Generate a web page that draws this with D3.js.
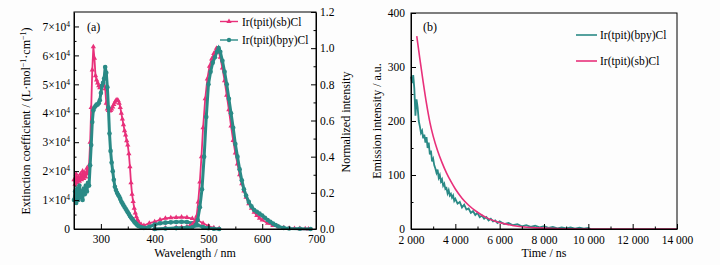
<!DOCTYPE html>
<html>
<head>
<meta charset="utf-8">
<script src="https://cdn.jsdelivr.net/npm/d3@7"></script>
<style>
  body { margin: 0; background: #fdfdfd; }
  svg { font-family: "Liberation Serif", "Times New Roman", serif; }
  .axis path, .axis line { stroke: #000; }
  .axis text { font-family: "Liberation Serif", serif; font-size: 11.5px; fill: #000; }
</style>
</head>
<body>
<svg id="chart" width="720" height="265"></svg>
<script>
// ---- panel (a): absorption (left axis, x10^4) ----
const absWavelength = [250,252,254,256,258,260,262,264,266,268,270,272,274,276,278,280,282,284,286,288,290,292,294,296,298,300,302,304,306,308,310,312,314,316,318,320,322,324,326,328,330,332,334,336,338,340,342,344,346,348,350,352,354,356,358,360,362,364,366,368,370,375,380,390,400,410,420,430,440,450,460,470,480,490,500,510,520];
const sbAbs = [1.7,1.55,1.9,1.6,1.8,1.65,1.9,1.7,2.0,1.75,1.95,1.8,2.1,1.9,2.2,3.0,4.2,5.5,6.3,5.9,5.3,5.15,5.05,4.95,4.88,4.9,4.97,5.02,4.95,4.85,4.35,4.15,4.1,4.08,4.1,4.15,4.22,4.3,4.38,4.44,4.47,4.44,4.35,4.2,4.0,3.8,3.6,3.4,3.25,3.05,2.9,2.6,2.15,1.6,1.2,0.95,0.72,0.55,0.42,0.32,0.25,0.15,0.12,0.2,0.25,0.32,0.37,0.39,0.4,0.41,0.4,0.36,0.3,0.2,0.1,0.04,0.02];
const bpyAbs = [1.0,1.3,0.9,1.4,1.0,1.5,1.1,1.3,1.0,1.4,1.2,1.5,1.3,1.6,1.5,2.2,2.9,3.7,4.1,4.2,4.25,4.3,4.3,4.35,4.45,4.7,4.95,5.05,5.2,5.6,5.4,4.9,4.2,3.3,2.7,2.3,2.0,1.7,1.46,1.35,1.25,1.18,1.12,1.04,0.95,0.89,0.82,0.76,0.7,0.64,0.58,0.52,0.45,0.4,0.35,0.3,0.25,0.21,0.17,0.13,0.1,0.06,0.04,0.08,0.15,0.2,0.22,0.23,0.24,0.25,0.24,0.2,0.13,0.07,0.03,0.01,0];

// ---- panel (a): normalized emission (right axis) ----
const sbEmWavelength = [400,420,440,450,460,465,470,474,478,481,484,487,490,494,498,502,506,510,515,518,522,526,530,534,538,542,546,550,554,558,562,566,570,575,580,585,590,595,600,610,620,630,640,650,660,670,680,686];
const sbEm = [0,0.005,0.008,0.01,0.012,0.015,0.025,0.04,0.07,0.15,0.26,0.4,0.56,0.72,0.83,0.9,0.94,0.97,1.0,0.99,0.95,0.89,0.82,0.74,0.66,0.57,0.49,0.42,0.36,0.3,0.25,0.21,0.175,0.14,0.115,0.093,0.075,0.06,0.05,0.032,0.02,0.012,0.007,0.004,0.003,0.002,0.001,0];
const bpyEmWavelength = [400,420,440,460,470,476,480,484,488,492,496,500,504,508,512,516,519,522,526,530,534,538,542,546,550,554,558,562,566,570,575,580,585,590,595,600,605,610,615,620,625,630,640,650,670,690];
const bpyEm = [0,0.003,0.005,0.008,0.01,0.02,0.05,0.12,0.22,0.4,0.62,0.8,0.87,0.92,0.95,0.98,1.0,0.98,0.93,0.87,0.8,0.72,0.64,0.56,0.47,0.4,0.33,0.27,0.22,0.185,0.15,0.125,0.105,0.095,0.085,0.075,0.062,0.05,0.04,0.03,0.022,0.014,0.006,0.003,0.001,0];

// ---- panel (b): decay ----
const bpyTime = [2000,2050,2100,2150,2200,2250,2300,2350,2400,2450,2500,2550,2600,2650,2700,2750,2800,2850,2900,2950,3000,3050,3100,3150,3200,3250,3300,3350,3400,3450,3500,3550,3600,3650,3700,3750,3800,3850,3900,3950,4000,4100,4200,4300,4400,4500,4600,4700,4800,4900,5000,5100,5200,5300,5400,5500,5600,5700,5800,5900,6000,6200,6400,6600,6800,7000,7200,7400,7600,7800,8000,8200,8400,8600,8800,9000,9200,9400,9600,9800,10000,10100];
const bpyDecay = [282,270,285,260,210,240,225,200,190,178,182,168,175,160,170,150,160,138,145,125,130,118,112,104,110,95,100,88,92,80,84,74,76,66,72,62,65,58,62,52,56,47,50,40,45,36,38,30,33,26,30,22,25,19,22,16,19,14,16,11,14,9,11,7,9,5,7,4,6,3,5,2,4,1,3,1,3,0.5,2.5,0.5,2,0];
const sbTime = [2260,2400,2550,2700,2850,3000,3200,3400,3600,3800,4000,4300,4600,5000,5400,5800,6300,6900,7500,8200,9000,10000,14000];
const sbDecay = [357,315,272,232,198,172,145,123,104,88,74,57,44,31,21,14.5,9,4.5,2.5,1.2,0.5,0,0];

const absTicks = [0,1,2,3,4,5,6,7];
const normTicks = [0,0.2,0.4,0.6,0.8,1.0,1.2];
const wlTicks = [300,400,500,600,700];
const timeTicks = [2000,4000,6000,8000,10000,12000,14000];
const decayTicks = [0,100,200,300,400];

const pink = '#e8307a';
const teal = '#2a8a86';

const svg = d3.select('#chart');

function frame(g, x, y){
    g.append('rect')
        .attr('x', x.range()[0]).attr('y', y.range()[1])
        .attr('width', x.range()[1] - x.range()[0])
        .attr('height', y.range()[0] - y.range()[1])
        .attr('fill', 'none').attr('stroke', '#000').attr('stroke-width', 1);
}

function minorAxis(g, axisFn, scale, values, transform){
    g.append('g').attr('class','axis').attr('transform', transform)
        .call(axisFn(scale).tickValues(values).tickSize(-2.5).tickSizeOuter(0).tickFormat(''))
        .select('.domain').remove();
}

// ================= panel (a) =================
const xA = d3.scaleLinear().domain([250, 700]).range([74, 316]);
const yAbs = d3.scaleLinear().domain([0, 7.5]).range([229, 12]);
const yNorm = d3.scaleLinear().domain([0, 1.2]).range([229, 12]);

const gA = svg.append('g');

let absLine = (arr)=> d3.line()
    .x((d, i)=> xA(absWavelength[i]))
    .y((d)=> yAbs(d))(arr);

let emLine = (wl, arr)=> d3.line()
    .x((d, i)=> xA(wl[i]))
    .y((d)=> yNorm(d))(arr);

const tri = d3.symbol().type(d3.symbolTriangle).size(12);

function drawTeal(path, pts){
    gA.append('path').attr('d', path).attr('fill','none').attr('stroke', teal).attr('stroke-width', 3);
    gA.append('g').selectAll('circle').data(pts).enter().append('circle')
        .attr('cx', d=> d[0]).attr('cy', d=> d[1]).attr('r', 2.3).attr('fill', teal);
}
function drawPink(path, pts){
    gA.append('path').attr('d', path).attr('fill','none').attr('stroke', pink).attr('stroke-width', 1.8);
    gA.append('g').selectAll('path').data(pts).enter().append('path')
        .attr('d', tri).attr('transform', d=> 'translate(' + d[0] + ',' + d[1] + ')').attr('fill', pink);
}

drawPink(absLine(sbAbs), sbAbs.map((d, i)=> [xA(absWavelength[i]), yAbs(d)]));
drawTeal(absLine(bpyAbs), bpyAbs.map((d, i)=> [xA(absWavelength[i]), yAbs(d)]));
drawPink(emLine(sbEmWavelength, sbEm), sbEm.map((d, i)=> [xA(sbEmWavelength[i]), yNorm(d)]));
drawTeal(emLine(bpyEmWavelength, bpyEm), bpyEm.map((d, i)=> [xA(bpyEmWavelength[i]), yNorm(d)]));

frame(gA, xA, yAbs);

gA.append('g').attr('class','axis').attr('transform','translate(0,229)')
    .call(d3.axisBottom(xA).tickValues(wlTicks).tickSize(-5).tickSizeOuter(0).tickPadding(6));
minorAxis(gA, d3.axisBottom, xA, [350,450,550,650], 'translate(0,229)');

let leftAxis = gA.append('g').attr('class','axis').attr('transform','translate(74,0)')
    .call(d3.axisLeft(yAbs).tickValues(absTicks).tickSize(-5).tickSizeOuter(0).tickPadding(4));
leftAxis.selectAll('.tick text').each(function(d){
    let t = d3.select(this).text('');
    if(d === 0){ t.text('0'); return; }
    t.append('tspan').text(d + '\u00d710');
    t.append('tspan').attr('dy', -4).attr('font-size', '7.5px').text('4');
});
minorAxis(gA, d3.axisLeft, yAbs, [0.5,1.5,2.5,3.5,4.5,5.5,6.5], 'translate(74,0)');

gA.append('g').attr('class','axis').attr('transform','translate(316,0)')
    .call(d3.axisRight(yNorm).tickValues(normTicks).tickSize(-5).tickSizeOuter(0).tickPadding(4)
        .tickFormat(d3.format('.1f')));
minorAxis(gA, d3.axisRight, yNorm, [0.1,0.3,0.5,0.7,0.9,1.1], 'translate(316,0)');

gA.append('text').attr('x', 87).attr('y', 31).attr('font-size', 12).text('(a)');

let ylab = gA.append('text').attr('transform','translate(30,121) rotate(-90)')
    .attr('text-anchor','middle').attr('font-size', 12);
ylab.append('tspan').text('Extinction coefficient / (L\u00b7mol');
ylab.append('tspan').attr('dy', -4).attr('font-size', 8).text('\u22121');
ylab.append('tspan').attr('dy', 4).text('\u00b7cm');
ylab.append('tspan').attr('dy', -4).attr('font-size', 8).text('\u22121');
ylab.append('tspan').attr('dy', 4).text(')');

gA.append('text').attr('transform','translate(350,122) rotate(-90)')
    .attr('text-anchor','middle').attr('font-size', 12).text('Normalized intensity');

gA.append('text').attr('x', 195).attr('y', 257).attr('text-anchor','middle')
    .attr('font-size', 12).text('Wavelength / nm');

// legend (a)
const legendA = [
    {name: 'Ir(tpit)(sb)Cl', color: pink, marker: 'tri'},
    {name: 'Ir(tpit)(bpy)Cl', color: teal, marker: 'circle'}
];
legendA.forEach((d, i)=>{
    let y = 21.5 + i * 18.5;
    gA.append('line').attr('x1', 220).attr('x2', 238).attr('y1', y).attr('y2', y)
        .attr('stroke', d.color).attr('stroke-width', 1.4);
    if(d.marker === 'tri')
        gA.append('path').attr('d', tri).attr('transform','translate(229,' + y + ')').attr('fill', d.color);
    else
        gA.append('circle').attr('cx', 229).attr('cy', y).attr('r', 2.2).attr('fill', d.color);
    gA.append('text').attr('x', 242).attr('y', y + 4).attr('font-size', 11.5).text(d.name);
});

// ================= panel (b) =================
const xB = d3.scaleLinear().domain([2000, 14000]).range([411, 677]);
const yB = d3.scaleLinear().domain([0, 400]).range([229, 13]);
const gB = svg.append('g');

gB.append('path')
    .attr('d', d3.line().x((d, i)=> xB(bpyTime[i])).y(d=> yB(d))(bpyDecay))
    .attr('fill','none').attr('stroke', teal).attr('stroke-width', 1.8);

gB.append('path')
    .attr('d', d3.line().curve(d3.curveMonotoneX).x((d, i)=> xB(sbTime[i])).y(d=> yB(d))(sbDecay))
    .attr('fill','none').attr('stroke', pink).attr('stroke-width', 1.6);

frame(gB, xB, yB);

const spaceLocale = d3.formatLocale({decimal: '.', thousands: ' ', grouping: [3], currency: ['', '']});

gB.append('g').attr('class','axis').attr('transform','translate(0,229)')
    .call(d3.axisBottom(xB).tickValues(timeTicks).tickSize(-5).tickSizeOuter(0).tickPadding(7)
        .tickFormat(spaceLocale.format(',')));
minorAxis(gB, d3.axisBottom, xB, [3000,5000,7000,9000,11000,13000], 'translate(0,229)');

gB.append('g').attr('class','axis').attr('transform','translate(411,0)')
    .call(d3.axisLeft(yB).tickValues(decayTicks).tickSize(-5).tickSizeOuter(0).tickPadding(6));
minorAxis(gB, d3.axisLeft, yB, [50,150,250,350], 'translate(411,0)');

gB.append('text').attr('x', 423).attr('y', 31).attr('font-size', 12).text('(b)');

gB.append('text').attr('transform','translate(381,121) rotate(-90)')
    .attr('text-anchor','middle').attr('font-size', 12).text('Emission intensity / a.u.');

gB.append('text').attr('x', 544).attr('y', 257).attr('text-anchor','middle')
    .attr('font-size', 12).text('Time / ns');

const legendB = [
    {name: 'Ir(tpit)(bpy)Cl', color: teal},
    {name: 'Ir(tpit)(sb)Cl', color: pink}
];
legendB.forEach((d, i)=>{
    let y = 35 + i * 26;
    gB.append('line').attr('x1', 576).attr('x2', 597).attr('y1', y).attr('y2', y)
        .attr('stroke', d.color).attr('stroke-width', 1.6);
    gB.append('text').attr('x', 600).attr('y', y + 4).attr('font-size', 11.5).text(d.name);
});
</script>
</body>
</html>
